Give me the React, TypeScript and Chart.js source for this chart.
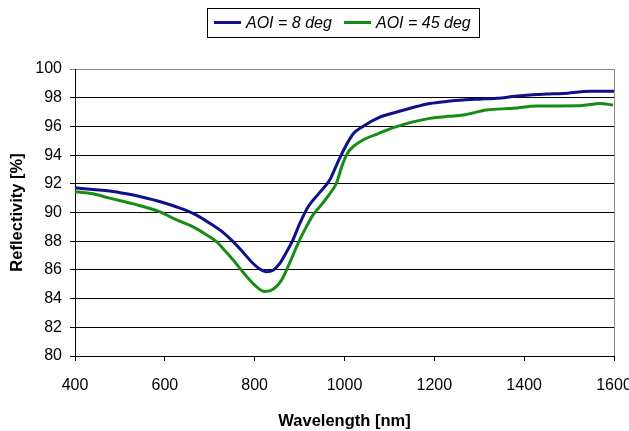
import { useEffect, useRef } from "react";
import { Chart, registerables } from "chart.js";

Chart.register(...registerables);

const seriesLabels = ["AOI = 8 deg", "AOI = 45 deg"];
const seriesColors = ["#10108a", "#168c16"];

const wavelengths8 = [400, 440, 477, 515, 551, 590, 625, 665, 700, 730, 752, 775, 796, 812, 826, 842, 856, 870, 885, 900, 919, 945, 967, 985, 1004, 1020, 1041, 1075, 1116, 1150, 1190, 1230, 1264, 1300, 1339, 1380, 1413, 1450, 1487, 1547, 1600];
const reflect8 = [91.72, 91.6, 91.5, 91.3, 91.06, 90.75, 90.4, 89.9, 89.25, 88.6, 87.97, 87.2, 86.46, 86.05, 85.87, 86.0, 86.46, 87.2, 88.08, 89.2, 90.4, 91.4, 92.26, 93.5, 94.7, 95.5, 96.0, 96.6, 97.0, 97.3, 97.6, 97.75, 97.84, 97.9, 97.96, 98.1, 98.19, 98.25, 98.3, 98.45, 98.45];

const wavelengths45 = [400, 440, 477, 530, 588, 625, 663, 690, 715, 735, 752, 770, 789, 805, 822, 835, 848, 860, 871, 885, 900, 915, 930, 950, 967, 982, 995, 1008, 1020, 1041, 1075, 1116, 1150, 1190, 1230, 1264, 1316, 1376, 1428, 1524, 1569, 1598];
const reflect45 = [91.45, 91.3, 91.0, 90.6, 90.06, 89.5, 89.0, 88.5, 87.97, 87.3, 86.7, 86.0, 85.3, 84.8, 84.5, 84.55, 84.83, 85.3, 86.0, 87.0, 88.08, 89.0, 89.83, 90.6, 91.3, 92.04, 93.3, 94.2, 94.6, 95.05, 95.5, 95.98, 96.3, 96.56, 96.7, 96.79, 97.14, 97.26, 97.42, 97.44, 97.6, 97.49];

const xTicks = [400, 600, 800, 1000, 1200, 1400, 1600];
const yTicks = [80, 82, 84, 86, 88, 90, 92, 94, 96, 98, 100];

const FONT = '"Liberation Sans", Arial, sans-serif';

const boxLegend = {
  id: "boxLegend",
  afterDraw(chart: any) {
    const ctx = chart.ctx;
    ctx.save();
    ctx.strokeStyle = "#000";
    ctx.lineWidth = 1;
    ctx.strokeRect(207.5, 8.5, 272, 29);
    ctx.font = "italic 16px " + FONT;
    ctx.textBaseline = "middle";
    ctx.fillStyle = "#000";
    const items = [
      { x0: 214, x1: 241, tx: 246 },
      { x0: 344, x1: 371, tx: 376 },
    ];
    items.forEach((it, i) => {
      ctx.strokeStyle = seriesColors[i];
      ctx.lineWidth = 3;
      ctx.beginPath();
      ctx.moveTo(it.x0, 22.5);
      ctx.lineTo(it.x1, 22.5);
      ctx.stroke();
      ctx.fillText(seriesLabels[i], it.tx, 23.5);
    });
    const a = chart.chartArea;
    ctx.strokeStyle = "#888";
    ctx.lineWidth = 1;
    ctx.beginPath();
    ctx.moveTo(Math.round(a.right) + 0.5, a.top);
    ctx.lineTo(Math.round(a.right) + 0.5, a.bottom);
    ctx.stroke();
    ctx.restore();
  },
};

export default function App() {
  const ref = useRef<HTMLCanvasElement>(null);
  useEffect(() => {
    document.body.style.margin = "0";
    const chart = new Chart(ref.current!, {
      type: "line",
      data: {
        datasets: [
          {
            label: seriesLabels[0],
            data: wavelengths8.map((x, i) => ({ x, y: reflect8[i] })),
            borderColor: seriesColors[0],
            borderWidth: 3,
            pointRadius: 0,
            cubicInterpolationMode: "monotone",
          },
          {
            label: seriesLabels[1],
            data: wavelengths45.map((x, i) => ({ x, y: reflect45[i] })),
            borderColor: seriesColors[1],
            borderWidth: 3,
            pointRadius: 0,
            cubicInterpolationMode: "monotone",
          },
        ],
      },
      options: {
        animation: false,
        responsive: false,
        events: [],
        layout: { padding: { top: 69, right: 15, left: 0, bottom: 0 } },
        plugins: { legend: { display: false }, tooltip: { enabled: false } },
        scales: {
          x: {
            type: "linear",
            min: 400,
            max: 1600,
            afterBuildTicks: (s: any) => {
              s.ticks = xTicks.map((v) => ({ value: v }));
            },
            afterFit: (s: any) => {
              s.height = 75;
              s.paddingLeft = 0;
              s.paddingRight = 0;
            },
            ticks: {
              color: "#000",
              font: { family: FONT, size: 16 },
              padding: 15,
              maxRotation: 0,
              autoSkip: false,
              callback: (v: any) => String(v),
            },
            grid: {
              drawOnChartArea: false,
              drawTicks: true,
              tickLength: 5,
              color: "#000",
            },
            border: { color: "#000" },
            title: {
              display: true,
              text: "Wavelength [nm]",
              color: "#000",
              font: { family: FONT, size: 16.5, weight: "bold" },
              padding: { top: 4, bottom: 0 },
            },
          },
          y: {
            min: 80,
            max: 100,
            afterBuildTicks: (s: any) => {
              s.ticks = yTicks.map((v) => ({ value: v }));
            },
            afterFit: (s: any) => {
              s.width = 75;
              s.paddingTop = 0;
              s.paddingBottom = 0;
            },
            ticks: {
              color: "#000",
              font: { family: FONT, size: 16 },
              padding: 8,
              callback: (v: any) => String(v),
            },
            grid: {
              drawTicks: true,
              tickLength: 5,
              color: (c: any) => (c.tick && c.tick.value === 100 ? "#888" : "#000"),
            },
            border: { color: "#000" },
            title: {
              display: true,
              text: "Reflectivity [%]",
              color: "#000",
              font: { family: FONT, size: 16.5, weight: "bold" },
              padding: { top: 8, bottom: 0 },
            },
          },
        },
      },
      plugins: [boxLegend],
    } as any);
    return () => chart.destroy();
  }, []);
  return (
    <div style={{ width: 629, height: 431 }}>
      <canvas ref={ref} width={629} height={431} />
    </div>
  );
}
